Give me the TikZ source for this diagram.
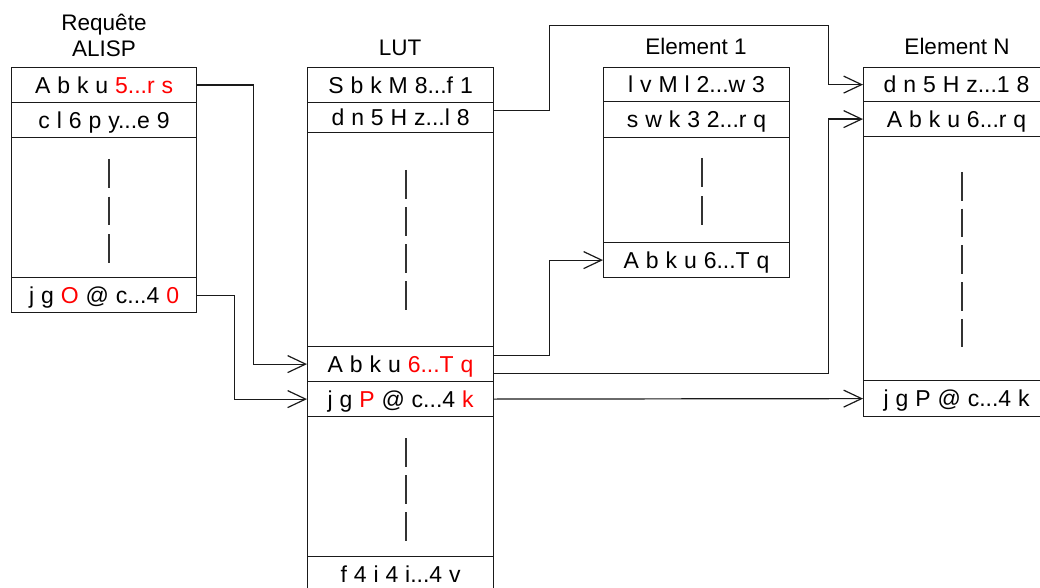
\documentclass[tikz,border=0pt]{standalone}
\usepackage{fontspec}
\setmainfont{Liberation Sans}
\usetikzlibrary{arrows.meta}
\definecolor{ink}{HTML}{1A1A1A}
\definecolor{dashc}{HTML}{333333}
\definecolor{redt}{HTML}{FF0000}
\newcommand{\rt}[1]{\textcolor{redt}{#1}}
\newcommand{\cellspacing}{\spaceskip=0.3em\relax}
\begin{document}
\begin{tikzpicture}[x=1pt,y=-1pt,
  cell/.style={draw=ink, line width=1.2pt, minimum width=186pt, inner sep=0pt, anchor=north west,
    text height=16.2pt, text depth=0pt, font=\fontsize{23}{27}\selectfont,
    execute at begin node=\cellspacing},
  ttl/.style={anchor=base, inner sep=0pt, font=\fontsize{22.5}{26}\selectfont},
  link/.style={draw=ink, line width=1.2pt, -{Straight Barb[length=18pt,width=17pt]}},
  dots/.style={draw=dashc, line width=2pt}
]
\clip (0,0) rectangle (1040,588);
% ---- Requete ALISP ----
\node[ttl] (tq1) at (104,31) {Requête};
\node[ttl] (tq2) at (104,57) {ALISP};
\node[cell, minimum width=185pt, minimum height=35pt] (r1) at (11,67) {A b k u \rt{5...r s}};
\node[cell, minimum width=185pt, minimum height=35pt] (r2) at (11,102) {c l 6 p y...e 9};
\node[cell, minimum width=185pt, minimum height=140pt] (rb) at (11,137) {};
\node[cell, minimum width=185pt, minimum height=35pt] (r3) at (11,277) {j g \rt{O} @ c...4 \rt{0}};
\draw[dots, dash pattern=on 28.5pt off 9pt] (109,159) -- (109,263);
% ---- LUT ----
\node[ttl] (tl) at (400,56) {LUT};
\node[cell, minimum height=35pt] (l1) at (307,67) {S b k M 8...f 1};
\node[cell, minimum height=30pt] (l2) at (307,102) {d n 5 H z...l 8};
\node[cell, minimum height=214pt] (lb1) at (307,132) {};
\node[cell, minimum height=35pt] (l3) at (307,346) {A b k u \rt{6...T q}};
\node[cell, minimum height=35pt] (l4) at (307,381) {j g \rt{P} @ c...4 \rt{k}};
\node[cell, minimum height=140pt] (lb2) at (307,416) {};
\node[cell, minimum height=35pt] (l5) at (307,556) {f 4 i 4 i...4 v};
\draw[dots, dash pattern=on 29pt off 8pt] (406,170) -- (406,311);
\draw[dots, dash pattern=on 29pt off 8pt] (406,438) -- (406,542);
% ---- Element 1 ----
\node[ttl] (te1) at (696,55) {Element 1};
\node[cell, minimum height=34pt] (e1) at (603,67) {l v M l 2...w 3};
\node[cell, minimum height=36pt] (e2) at (603,101) {s w k 3 2...r q};
\node[cell, minimum height=105pt] (eb) at (603,137) {};
\node[cell, minimum height=35pt] (e3) at (603,242) {A b k u 6...T q};
\draw[dots, dash pattern=on 29pt off 9pt] (702,158) -- (702,226);
% ---- Element N ----
\node[ttl] (tn) at (957,55) {Element N};
\node[cell, minimum height=34pt] (n1) at (863,67) {d n 5 H z...1 8};
\node[cell, minimum height=35pt] (n2) at (863,101) {A b k u 6...r q};
\node[cell, minimum height=244pt] (nb) at (863,136) {};
\node[cell, minimum height=36pt] (n3) at (863,380) {j g P @ c...4 k};
\draw[dots, dash pattern=on 28.5pt off 8.2pt] (962,172) -- (962,348);
% ---- connectors ----
\draw[link] (r1.east) -- ++(56,0) |- (l3.west);
\draw[link] (r3.east) -- ++(37,0) |- (l4.west);
\draw[link] ([yshift=7pt]l2.east) -- ++(55,0) -- ++(0,-85) -- ++(279,0) |- (n1.west);
\draw[link] ([yshift=8.5pt]l3.east) -- ++(55,0) |- (e3.west);
\draw[link] ([yshift=-9.5pt]l3.east) -- ++(334,0) |- (n2.west);
\draw[link] (l4.east) -- (n3.west);
\end{tikzpicture}
\end{document}
